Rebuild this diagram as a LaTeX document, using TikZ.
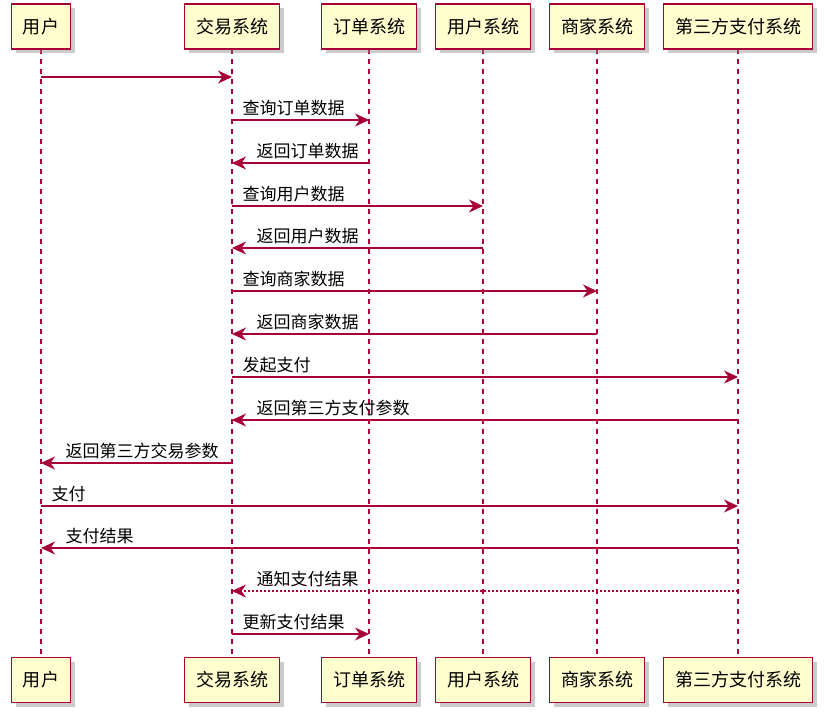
\documentclass[tikz,border=0pt]{standalone}
\usepackage{fontspec}
\newfontfamily\cjk{Noto Sans CJK SC}
\usetikzlibrary{arrows.meta,shadows}
\definecolor{umlred}{HTML}{A80036}
\definecolor{umlfill}{HTML}{FEFECE}
\tikzset{
  part/.style={draw=umlred, line width=1.5pt, fill=umlfill, minimum height=45pt,
    inner xsep=11.5pt, font=\cjk\fontsize{18}{20}\selectfont,
    drop shadow={shadow xshift=4pt, shadow yshift=-4pt, opacity=0.45, fill=black!45}},
  lifeline/.style={draw=umlred, line width=1.2pt, dash pattern=on 5pt off 5pt},
  msg/.style={draw=umlred, line width=1.3pt, -{Stealth[length=14pt, width=13pt, inset=4.5pt]}},
  reply/.style={msg, dash pattern=on 2pt off 2pt},
  rlbl/.style={anchor=south west, inner sep=0pt, xshift=10pt, yshift=3pt, font=\cjk\fontsize{17}{19}\selectfont},
  llbl/.style={anchor=south west, inner sep=0pt, xshift=24pt, yshift=3pt, font=\cjk\fontsize{17}{19}\selectfont}
}
\begin{document}
\begin{tikzpicture}[x=1pt, y=-1pt]
			%%%%% START %%%%%
			\useasboundingbox (0,0) rectangle (824,715);
			
			\draw[lifeline] (41,49) -- (41,657);
			\draw[lifeline] (232,49) -- (232,657);
			\draw[lifeline] (369,49) -- (369,657);
			\draw[lifeline] (483,49) -- (483,657);
			\draw[lifeline] (597,49) -- (597,657);
			\draw[lifeline] (738,49) -- (738,657);
			
			\node[part] (yhT) at (41,26.5) {用户};
			\node[part] (jyT) at (232,26.5) {交易系统};
			\node[part] (ddT) at (369,26.5) {订单系统};
			\node[part] (uxT) at (483,26.5) {用户系统};
			\node[part] (sjT) at (597,26.5) {商家系统};
			\node[part] (zfT) at (738,26.5) {第三方支付系统};
			
			\node[part] (yhB) at (41,680) {用户};
			\node[part] (jyB) at (232,680) {交易系统};
			\node[part] (ddB) at (369,680) {订单系统};
			\node[part] (uxB) at (483,680) {用户系统};
			\node[part] (sjB) at (597,680) {商家系统};
			\node[part] (zfB) at (738,680) {第三方支付系统};
			
			\draw[msg] (yhT |- 0,77) -- (jyT |- 0,77);
			\draw[msg] (jyT |- 0,120) -- (ddT |- 0,120) node[pos=0, rlbl] {查询订单数据};
			\draw[msg] (ddT |- 0,163) -- (jyT |- 0,163) node[pos=1, llbl] {返回订单数据};
			\draw[msg] (jyT |- 0,206) -- (uxT |- 0,206) node[pos=0, rlbl] {查询用户数据};
			\draw[msg] (uxT |- 0,248) -- (jyT |- 0,248) node[pos=1, llbl] {返回用户数据};
			\draw[msg] (jyT |- 0,291) -- (sjT |- 0,291) node[pos=0, rlbl] {查询商家数据};
			\draw[msg] (sjT |- 0,334) -- (jyT |- 0,334) node[pos=1, llbl] {返回商家数据};
			\draw[msg] (jyT |- 0,377) -- (zfT |- 0,377) node[pos=0, rlbl] {发起支付};
			\draw[msg] (zfT |- 0,420) -- (jyT |- 0,420) node[pos=1, llbl] {返回第三方支付参数};
			\draw[msg] (jyT |- 0,463) -- (yhT |- 0,463) node[pos=1, llbl] {返回第三方交易参数};
			\draw[msg] (yhT |- 0,506) -- (zfT |- 0,506) node[pos=0, rlbl] {支付};
			\draw[msg] (zfT |- 0,548) -- (yhT |- 0,548) node[pos=1, llbl] {支付结果};
			\draw[reply] (zfT |- 0,591) -- (jyT |- 0,591) node[pos=1, llbl] {通知支付结果};
			\draw[msg] (jyT |- 0,634) -- (ddT |- 0,634) node[pos=0, rlbl] {更新支付结果};
			
			%%%%% END %%%%%
\end{tikzpicture}
\end{document}
